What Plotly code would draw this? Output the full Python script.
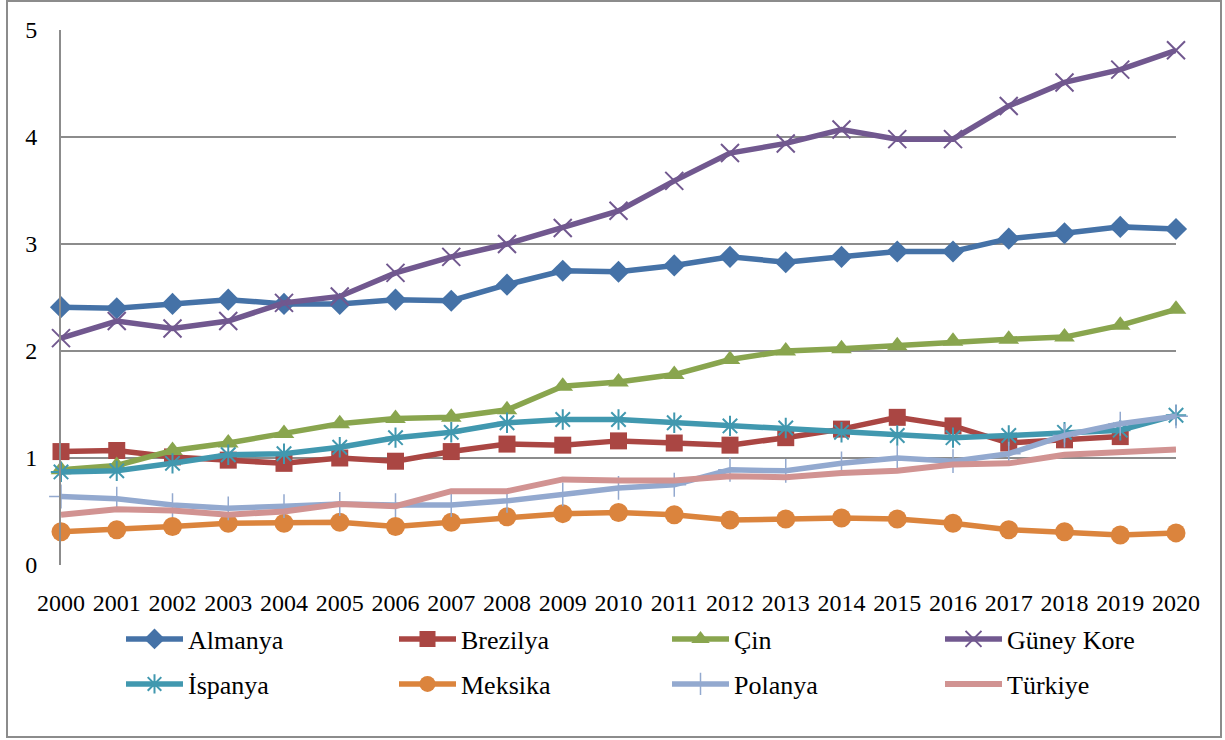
import plotly.graph_objects as go

years = list(range(2000, 2021))

almanya = [2.41, 2.40, 2.44, 2.48, 2.44, 2.44, 2.48, 2.47, 2.62, 2.75, 2.74, 2.80, 2.88, 2.83, 2.88, 2.93, 2.93, 3.05, 3.10, 3.16, 3.14]
brezilya = [1.06, 1.07, 1.01, 0.98, 0.95, 1.00, 0.97, 1.06, 1.13, 1.12, 1.16, 1.14, 1.12, 1.19, 1.27, 1.38, 1.30, 1.14, 1.17, 1.20, None]
cin = [0.89, 0.93, 1.07, 1.14, 1.23, 1.32, 1.37, 1.38, 1.45, 1.67, 1.71, 1.78, 1.92, 2.00, 2.02, 2.05, 2.09, 2.11, 2.13, 2.24, 2.39]
guney_kore = [2.12, 2.28, 2.21, 2.28, 2.45, 2.51, 2.73, 2.88, 3.00, 3.15, 3.31, 3.59, 3.85, 3.94, 4.07, 3.98, 3.98, 4.29, 4.51, 4.63, 4.81]
ispanya = [0.87, 0.88, 0.95, 1.03, 1.04, 1.10, 1.19, 1.24, 1.33, 1.36, 1.36, 1.33, 1.30, 1.28, 1.24, 1.21, 1.19, 1.21, 1.24, 1.26, 1.40]
meksika = [0.31, 0.33, 0.36, 0.39, 0.39, 0.40, 0.36, 0.40, 0.45, 0.48, 0.49, 0.47, 0.42, 0.43, 0.44, 0.43, 0.39, 0.33, 0.31, 0.28, 0.30]
polanya = [0.64, 0.62, 0.56, 0.53, 0.55, 0.57, 0.56, 0.56, 0.60, 0.66, 0.72, 0.75, 0.89, 0.88, 0.95, 1.00, 0.97, 1.04, 1.21, 1.32, 1.39]
turkiye = [0.47, 0.52, 0.51, 0.47, 0.50, 0.57, 0.55, 0.69, 0.69, 0.80, 0.79, 0.79, 0.83, 0.82, 0.86, 0.88, 0.94, 0.95, 1.03, 1.06, 1.08]

y_ticks = [0, 1, 2, 3, 4, 5]

# name, values, colour, marker symbol, marker size, marker line width, legend row
series = [
    ("Almanya", almanya, "#4572A7", "diamond", 17, 0, "legend"),
    ("Brezilya", brezilya, "#AA4643", "square", 17, 0, "legend"),
    ("Çin", cin, "#89A54E", "triangle-up", 18, 0, "legend"),
    ("Güney Kore", guney_kore, "#71588F", "x-thin", 18, 2, "legend"),
    ("İspanya", ispanya, "#4198AF", "asterisk", 17, 2, "legend2"),
    ("Meksika", meksika, "#DB843D", "circle", 19, 0, "legend2"),
    ("Polanya", polanya, "#93A9CF", "cross-thin", 17, 1.5, "legend2"),
    ("Türkiye", turkiye, "#D19392", None, 0, 0, "legend2"),
]

fig = go.Figure()
for name, vals, color, sym, size, lw, leg in series:
    if sym is None:
        fig.add_trace(go.Scatter(x=years, y=vals, name=name, mode="lines", legend=leg,
                                 line=dict(color=color, width=6), cliponaxis=False))
    else:
        fig.add_trace(go.Scatter(
            x=years, y=vals, name=name, mode="lines+markers", legend=leg,
            line=dict(color=color, width=5.5),
            marker=dict(symbol=sym, size=size, color=color,
                        line=dict(color=color, width=lw)),
            cliponaxis=False))

font_family = "Liberation Serif"
W, H = 1225, 740
legend_common = dict(orientation="h", xref="container", yref="container",
                     x=121 / W, xanchor="left", yanchor="middle",
                     entrywidth=201, entrywidthmode="pixels", itemwidth=57,
                     bgcolor="rgba(0,0,0,0)",
                     font=dict(family=font_family, size=26, color="black"),
                     traceorder="normal")

fig.update_layout(
    width=W, height=H,
    margin=dict(l=61, r=49, t=30, b=175, autoexpand=False),
    paper_bgcolor="white", plot_bgcolor="white",
    font=dict(family=font_family, size=24, color="black"),
    showlegend=True,
    legend=dict(legend_common, y=1 - 639 / H),
    legend2=dict(legend_common, y=1 - 684 / H),
    xaxis=dict(range=[2000, 2020], tickvals=years, ticktext=[str(y) for y in years],
               showgrid=False, zeroline=False, showline=False, ticks="",
               ticklabelstandoff=21, tickfont=dict(size=24)),
    yaxis=dict(range=[0, 5], tickvals=y_ticks, showgrid=True, gridcolor="#8c8c8c",
               gridwidth=2, zeroline=False, showline=True, linecolor="#8c8c8c",
               linewidth=2, ticks="", ticklabelstandoff=17, tickfont=dict(size=24)),
)

fig.add_shape(type="rect", xref="paper", yref="paper",
              x0=(7 - 61) / 1115, x1=(1221 - 61) / 1115,
              y0=(565 - 737) / 535, y1=(565 - 1) / 535,
              line=dict(color="#8c8c8c", width=2), layer="below")

fig.write_html("out.html", config={"displayModeBar": False},
               post_script="document.body.style.margin='0px';document.body.style.overflow='hidden';")
